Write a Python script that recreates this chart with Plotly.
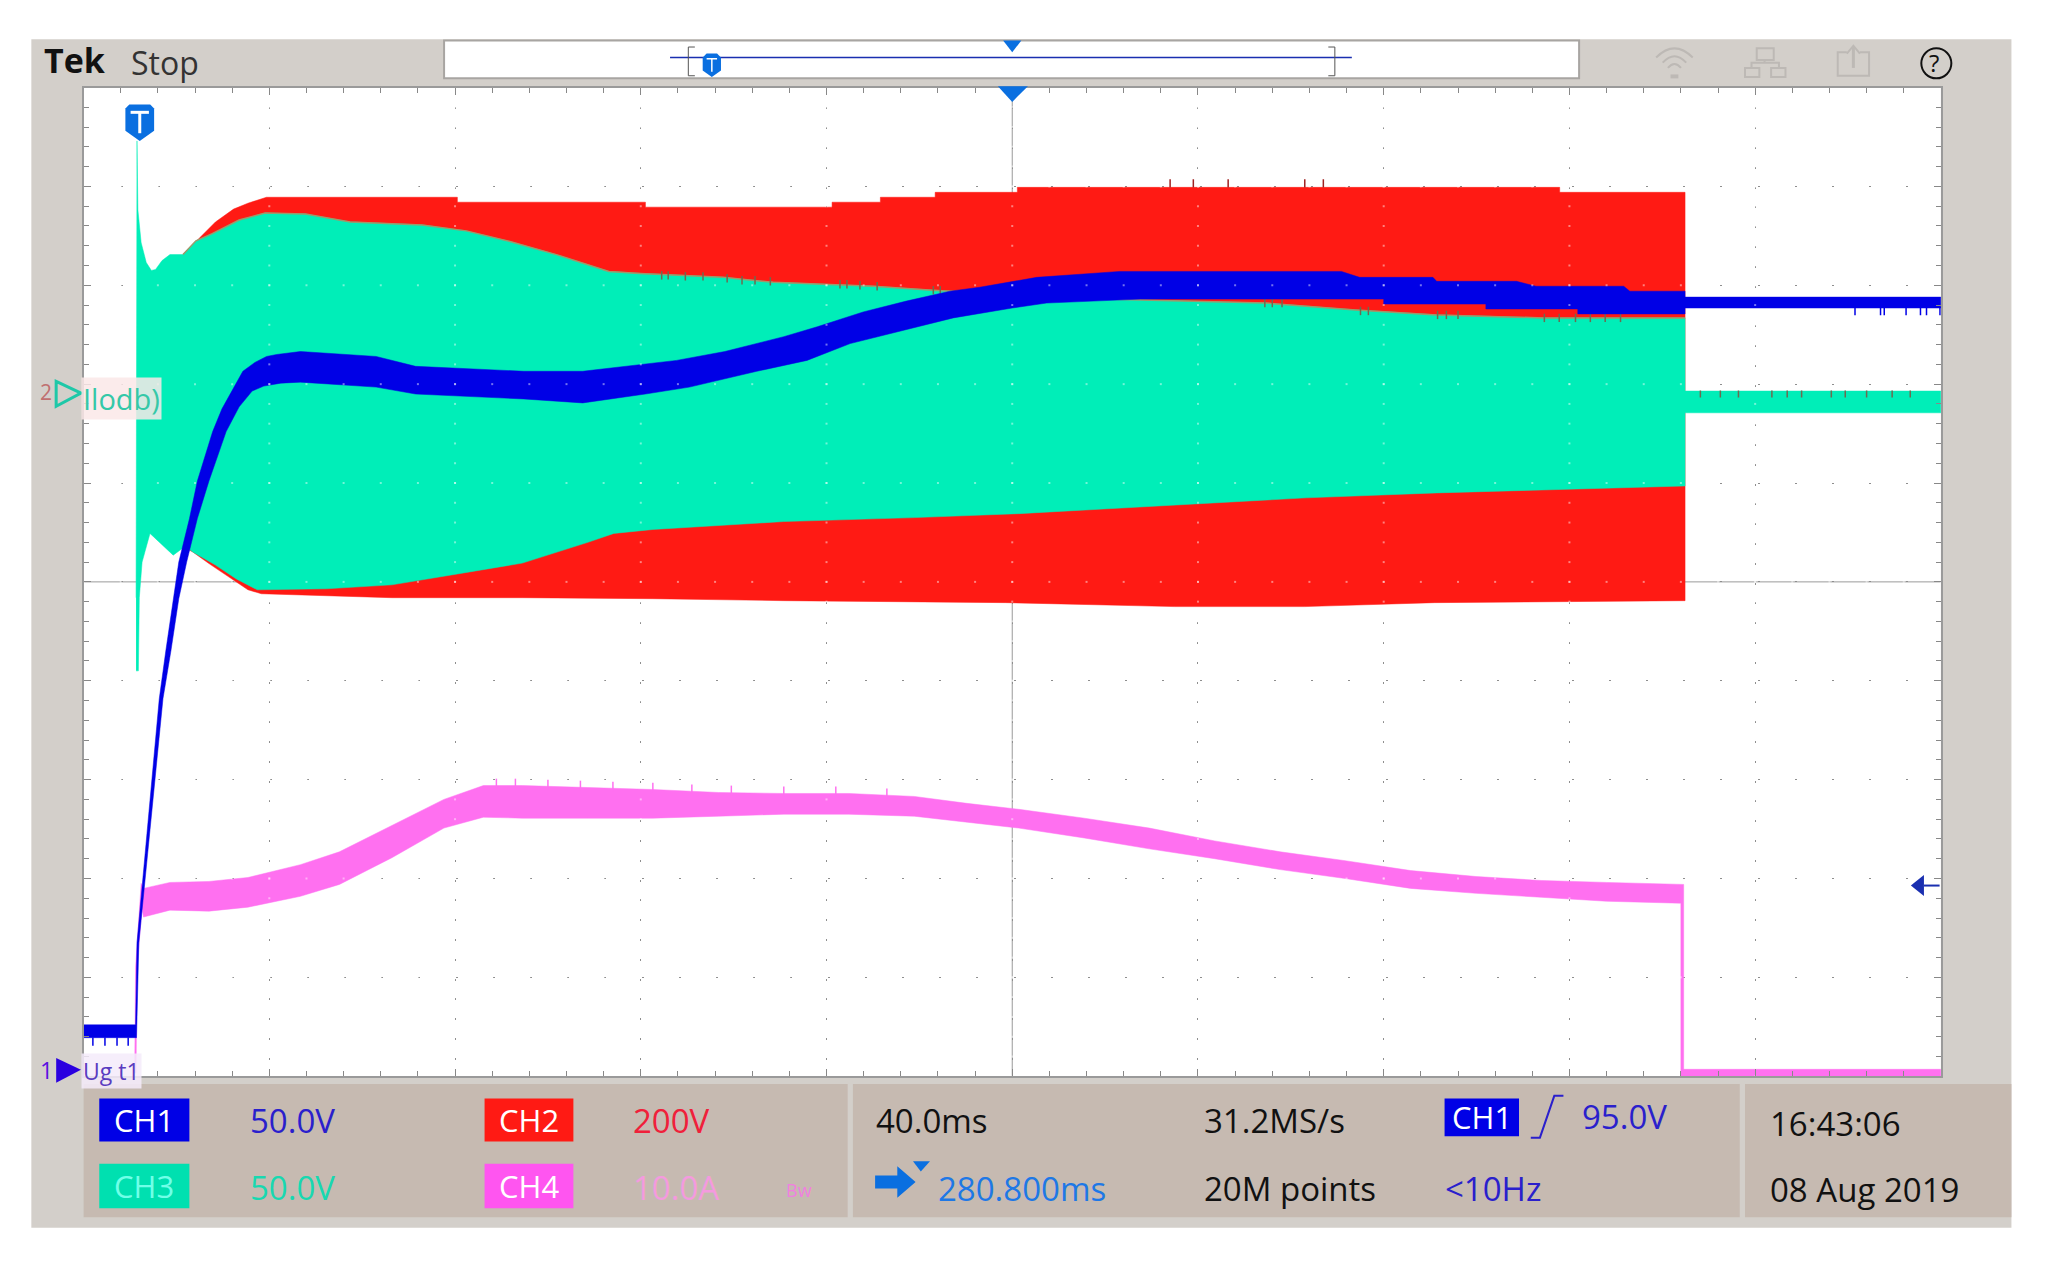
import plotly.graph_objects as go

# time axis in ms from the left screen edge (40 ms/div), y in divisions from centre
teal_top_t = [11.3, 11.5, 11.7, 12.4, 13.5, 14.6, 15.5, 16.9, 18.6, 21.4, 24.2, 27.6, 33.5, 39.1, 47.8, 57.4, 72.9, 82.4, 92.0, 101.8, 113.1, 119.8, 137.7, 148.5, 170.1, 182.9, 218.8, 254.5, 274, 291.4, 314.5, 344.9, 344.9, 400]
teal_top_v = [-0.16, 4.46, 3.76, 3.43, 3.23, 3.15, 3.16, 3.25, 3.31, 3.31, 3.45, 3.52, 3.66, 3.73, 3.72, 3.64, 3.61, 3.55, 3.44, 3.31, 3.14, 3.12, 3.08, 3.03, 2.99, 2.95, 2.86, 2.82, 2.75, 2.70, 2.67, 2.67, 1.93, 1.93]
teal_bot_t = [11.3, 11.8, 12.0, 12.6, 14.3, 19.3, 21.9, 23.6, 28.4, 32.9, 37.4, 52.3, 66.4, 80.5, 94.5, 108.6, 114.2, 122.6, 150.8, 178.9, 201.4, 235.2, 263.3, 291.4, 319.6, 344.9, 344.9, 400]
teal_bot_v = [-0.90, -0.90, -0.16, 0.20, 0.49, 0.27, 0.36, 0.30, 0.17, 0.03, -0.08, -0.07, -0.03, 0.08, 0.19, 0.40, 0.49, 0.53, 0.61, 0.65, 0.69, 0.78, 0.85, 0.90, 0.94, 0.97, 1.71, 1.71]

red_top_t = [21.4, 24.8, 28.4, 32.3, 35.4, 39.4, 80.5, 80.5, 121, 121, 161.2, 161.2, 171.6, 171.6, 183.4, 183.4, 201.1, 201.1, 317.9, 317.9, 344.9]
red_top_v = [3.31, 3.47, 3.64, 3.77, 3.83, 3.89, 3.89, 3.84, 3.84, 3.79, 3.79, 3.84, 3.84, 3.89, 3.89, 3.94, 3.94, 3.99, 3.99, 3.94, 3.94]
red_bot_t = [21.4, 23.6, 27, 31.2, 35.4, 38.3, 66.4, 94.5, 122.6, 150.8, 198.6, 235, 263, 291, 320, 344.9]
red_bot_v = [0.36, 0.30, 0.185, 0.05, -0.08, -0.12, -0.16, -0.16, -0.17, -0.19, -0.21, -0.25, -0.25, -0.21, -0.20, -0.19]

blue_top_t = [0, 11.2, 11.5, 16.3, 17.7, 19.4, 20.5, 22.8, 24.5, 27.8, 29.8, 34.3, 36.9, 39.4, 41.6, 46.7, 63, 71.5, 94.8, 107.5, 121, 127.7, 138.1, 150.8, 158, 167.9, 177.2, 186.6, 193, 205.3, 223.2, 270.9, 274.8, 290.6, 291.4, 308.6, 312.8, 331.7, 333, 344.9, 344.9, 400]
blue_top_v = [-4.48, -4.48, -3.65, -1.18, -0.70, -0.17, 0.20, 0.64, 1.02, 1.52, 1.75, 2.13, 2.22, 2.28, 2.30, 2.33, 2.28, 2.18, 2.13, 2.13, 2.20, 2.24, 2.33, 2.48, 2.58, 2.73, 2.84, 2.94, 2.98, 3.08, 3.14, 3.14, 3.08, 3.08, 3.04, 3.04, 2.99, 2.99, 2.94, 2.94, 2.88, 2.88]
blue_bot_t = [0, 11.4, 11.9, 17.1, 18.8, 20.5, 22.2, 24.5, 27, 30.7, 33.5, 36.3, 38.8, 42.5, 46.7, 63, 71.5, 94.8, 107.5, 121, 130.5, 145, 155.8, 165.1, 177.2, 187.3, 200, 207.4, 227.6, 280, 280, 302, 302, 321.8, 321.8, 344.9, 344.9, 400]
blue_bot_v = [-4.61, -4.61, -3.65, -1.18, -0.70, -0.17, 0.20, 0.64, 1.02, 1.52, 1.77, 1.93, 1.98, 2.01, 2.02, 1.97, 1.90, 1.85, 1.81, 1.90, 1.97, 2.13, 2.24, 2.41, 2.55, 2.67, 2.77, 2.82, 2.86, 2.86, 2.81, 2.81, 2.76, 2.76, 2.71, 2.71, 2.77, 2.77]

pink_t = [12.9, 18.6, 27, 35.4, 46.7, 55.1, 66.4, 77.6, 86.1, 94.5, 108.6, 122.6, 136.7, 150.8, 164.8, 178.9, 190.2, 201.4, 215.5, 229.5, 243.6, 257.7, 271.7, 285.8, 299.9, 313.9, 328, 344.0]
pink_top_v = [-3.10, -3.04, -3.03, -2.99, -2.86, -2.73, -2.46, -2.20, -2.06, -2.06, -2.08, -2.10, -2.13, -2.14, -2.14, -2.17, -2.24, -2.30, -2.39, -2.49, -2.62, -2.73, -2.82, -2.92, -2.98, -3.02, -3.04, -3.06]
pink_bot_v = [-3.39, -3.32, -3.33, -3.29, -3.18, -3.06, -2.79, -2.49, -2.38, -2.39, -2.39, -2.39, -2.37, -2.35, -2.35, -2.37, -2.43, -2.49, -2.59, -2.70, -2.80, -2.91, -3.00, -3.10, -3.15, -3.19, -3.23, -3.25]

# single sample glitches standing off the envelopes
edge_spike_t = [124.5, 125.9, 129.6, 133.4, 138.6, 141.8, 144.6, 147.9, 162.9, 164.4, 167.2, 170.9, 183, 184.5, 254.4, 256, 258.1, 275, 276.7, 291.6, 293.5, 296, 314.6, 317.8, 321.3, 324.5, 327.7, 331]
edge_spike_v = [3.10, 3.10, 3.09, 3.09, 3.07, 3.05, 3.05, 3.04, 3.01, 3.01, 3.00, 2.99, 2.95, 2.95, 2.82, 2.82, 2.82, 2.74, 2.74, 2.70, 2.70, 2.70, 2.67, 2.67, 2.67, 2.67, 2.67, 2.67]
red_spike_t = [234, 239, 246.5, 263, 267]
red_spike_v = [4.03, 4.03, 4.03, 4.03, 4.03]
teal_spike_t = [348.2, 352.5, 356.4, 363.6, 366.9, 370, 376.4, 379.4, 384, 389.5, 393.4]
teal_spike_v = [1.90] * 11
blue_spike_t = [2.0, 4.6, 7.2, 9.6, 381.5, 387, 387.8, 392.5, 395.6, 396.9, 399.8]
blue_spike_v = [-4.65, -4.65, -4.65, -4.65, 2.74, 2.74, 2.74, 2.74, 2.74, 2.74, 2.74]
pink_spike_t = [88.9, 93, 100, 107, 114, 122.6, 131, 139.5, 150.8, 162, 173]
pink_spike_v = [-2.04, -2.04, -2.05, -2.06, -2.07, -2.08, -2.10, -2.11, -2.12, -2.12, -2.14]

TEAL = "#00EEB8"
RED = "#FF1A14"
BLUE = "#0000E6"
PINK = "#FF70F0"
GLITCH = "#6E6A50"
FONT = "Open Sans"
K = 2048 / 1568  # layout below is measured on the 1568 wide view


def px(x):
    return x * K / 2048


def py(y):
    return 1 - y * K / 1267


def rect(x0, y0, x1, y1, fill, line=None, width=1):
    return dict(type="rect", xref="paper", yref="paper", x0=px(x0), y0=py(y0), x1=px(x1), y1=py(y1),
                fillcolor=fill, line=dict(color=line or fill, width=width if line else 0), layer="below")


def poly(points, fill=None, line=None, width=1, close=True, layer="above"):
    path = "M " + " L ".join(f"{px(x)},{py(y)}" for x, y in points) + (" Z" if close else "")
    return dict(type="path", xref="paper", yref="paper", path=path, fillcolor=fill or "rgba(0,0,0,0)",
                line=dict(color=line or "rgba(0,0,0,0)", width=width), layer=layer)


def label(x, y, text, color="#111", size=33, weight=400, **kw):
    return dict(xref="paper", yref="paper", x=px(x), y=py(y), text=text, showarrow=False, xanchor="left",
                yanchor="middle", font=dict(family=FONT, size=size, color=color, weight=weight), **kw)


def chip(x0, y0, x1, y1, text, fill, color="white"):
    shapes.append(rect(x0, y0, x1, y1, fill))
    annotations.append(dict(xref="paper", yref="paper", x=px((x0 + x1) / 2), y=py((y0 + y1) / 2), text=text,
                            showarrow=False, xanchor="center", yanchor="middle",
                            font=dict(family=FONT, size=31, color=color)))


def shield(cx, top, w, h, fill):
    return poly([(cx - w, top + 3), (cx - w + 3, top), (cx + w - 3, top), (cx + w, top + 3), (cx + w, top + h * 0.72),
                 (cx, top + h), (cx - w, top + h * 0.72)], fill=fill)


def band(top_t, top_v, bot_t, bot_v, color):
    return go.Scatter(x=list(top_t) + list(bot_t)[::-1], y=list(top_v) + list(bot_v)[::-1], mode="lines",
                      fill="toself", fillcolor=color, line=dict(color=color, width=0.5), hoverinfo="skip",
                      showlegend=False)


def glitches(t, v, color, size=6):
    return go.Scatter(x=t, y=v, mode="markers", hoverinfo="skip", showlegend=False,
                      marker=dict(symbol="line-ns", size=size, line=dict(color=color, width=1.5)))


shapes = [
    rect(24, 30, 1540, 940, "#D3CFCA"),
    rect(64, 830, 1540, 932, "#C6BAB1"),
    rect(649, 828, 653, 934, "#D3CFCA"),
    rect(1332, 828, 1336, 934, "#D3CFCA"),
    rect(64, 67, 1486, 824, "white"),
    rect(340, 31, 1209, 60, "white", "#A8A5A2", 2),
    # record view
    poly([(513, 44), (1035, 44)], line="#1A2FB0", width=1.5, close=False),
    poly([(532, 36), (527, 36), (527, 58), (532, 58)], line="#555", close=False),
    poly([(1017, 36), (1022, 36), (1022, 58), (1017, 58)], line="#555", close=False),
    shield(545, 41, 7, 18, "#0A6FE0"),
    poly([(541, 45), (549, 45)], line="white", width=1.5, close=False),
    poly([(545, 45), (545, 55)], line="white", width=1.5, close=False),
    poly([(768, 31), (782, 31), (775, 40)], fill="#0A6FE0"),
    # trigger position, level and T markers
    poly([(764, 66), (787, 66), (775, 78)], fill="#0A6FE0"),
    shield(107, 80, 11, 28, "#0A6FE0"),
    poly([(100, 86), (114, 86)], line="white", width=3, close=False),
    poly([(107, 86), (107, 102)], line="white", width=3, close=False),
    poly([(1485, 678), (1473, 678)], line="#1A2FB0", width=2, close=False),
    poly([(1463, 678), (1473, 670), (1473, 686)], fill="#1A2FB0"),
    # channel markers
    poly([(43, 292), (62, 301), (43, 311)], line="#1EC8A8", width=3),
    poly([(43, 810), (62, 819), (43, 829)], fill="#2A00E0"),
    # delay arrow
    poly([(670, 900), (687, 900), (687, 893), (701, 905), (687, 917), (687, 910), (670, 910)], fill="#0A6FE0"),
    poly([(699, 889), (712, 889), (705, 897)], fill="#0A6FE0"),
    # trigger slope
    poly([(1172, 871), (1179, 871), (1190, 839), (1197, 839)], line="#2A1FCC", width=2, close=False),
    # status icons
    dict(type="path", xref="paper", yref="paper", layer="above", line=dict(color="#BDB9B5", width=2),
         path=f"M {px(1268)},{py(44)} Q {px(1282)},{py(30)} {px(1296)},{py(44)} "
              f"M {px(1273)},{py(48)} Q {px(1282)},{py(38)} {px(1291)},{py(48)} "
              f"M {px(1277)},{py(52)} Q {px(1282)},{py(46)} {px(1287)},{py(52)}"),
    poly([(1279, 57), (1285, 57), (1285, 60), (1279, 60)], fill="#BDB9B5"),
    poly([(1345, 37), (1358, 37), (1358, 46), (1345, 46)], line="#BDB9B5", width=2),
    poly([(1336, 52), (1347, 52), (1347, 59), (1336, 59)], line="#BDB9B5", width=2),
    poly([(1356, 52), (1367, 52), (1367, 59), (1356, 59)], line="#BDB9B5", width=2),
    poly([(1341, 52), (1341, 48), (1362, 48), (1362, 52)], line="#BDB9B5", width=2, close=False),
    poly([(1351, 46), (1351, 48)], line="#BDB9B5", width=2, close=False),
    poly([(1414, 40), (1407, 40), (1407, 58), (1431, 58), (1431, 40), (1424, 40)], line="#BDB9B5", width=2, close=False),
    poly([(1419, 52), (1419, 36)], line="#BDB9B5", width=3, close=False),
    poly([(1414, 41), (1419, 35), (1424, 41)], line="#BDB9B5", width=2, close=False),
    dict(type="circle", xref="paper", yref="paper", x0=px(1471), x1=px(1494), y0=py(37), y1=py(60),
         line=dict(color="#111", width=2), layer="above"),
    # centre graticule lines
    dict(type="line", xref="x", yref="paper", x0=200, x1=200, y0=py(67), y1=py(824), line=dict(color="#9A9A9A", width=1), layer="below"),
    dict(type="line", xref="paper", yref="y", x0=px(64), x1=px(1486), y0=0, y1=0, line=dict(color="#9A9A9A", width=1), layer="below"),
]

annotations = [
    label(32, 46, "Tek", "#111", 34, weight=700),
    label(99, 48, "Stop", "#333", 32),
    label(29, 300, "2", "#C07070", 21),
    label(29, 819, "1", "#5A10E0", 23),
    label(62, 305, "Ilodb)", "#35C8A8", 29, bgcolor="rgba(250,232,232,0.85)"),
    label(62, 820, "Ug t1", "#5A3CC0", 23, bgcolor="rgba(245,235,250,0.85)"),
    label(1475, 48, "?", "#111", 24),
    label(190, 858, "50.0V", "#2A1FCC"),
    label(483, 858, "200V", "#F0203A"),
    label(190, 909, "50.0V", "#18D8B0"),
    label(483, 909, "10.0A", "#F49ADF"),
    label(600, 911, "Bw", "#F080E0", 18),
    label(669, 858, "40.0ms"),
    label(717, 910, "280.800ms", "#1E78E6"),
    label(920, 858, "31.2MS/s"),
    label(920, 910, "20M points"),
    label(1210, 855, "95.0V", "#2A1FCC"),
    label(1105, 910, "<10Hz", "#2A1FCC"),
    label(1354, 860, "16:43:06"),
    label(1354, 911, "08 Aug 2019"),
]

chip(76, 841, 145, 874, "CH1", BLUE)
chip(371, 841, 439, 874, "CH2", RED)
chip(76, 891, 145, 925, "CH3", "#00E0B0", "#70FFE8")
chip(371, 891, 439, 925, "CH4", "#FF55F0")
chip(1106, 841, 1163, 870, "CH1", BLUE)

fig = go.Figure()
fig.add_trace(band(red_top_t, red_top_v, red_bot_t, red_bot_v, RED))
fig.add_trace(band(teal_top_t, teal_top_v, teal_bot_t, teal_bot_v, TEAL))
# olive fringe where the teal envelope meets the red one
fig.add_trace(go.Scatter(x=teal_top_t[9:32], y=teal_top_v[9:32], mode="lines", line=dict(color="#9C9A6C", width=1.5),
                         hoverinfo="skip", showlegend=False))
fig.add_trace(glitches(edge_spike_t, edge_spike_v, GLITCH))
fig.add_trace(glitches(red_spike_t, red_spike_v, "#A02020"))
fig.add_trace(glitches(teal_spike_t, teal_spike_v, GLITCH, 5))
fig.add_trace(band([11.0, 11.2, 12.4] + pink_t[:-1] + [344.6, 344.6, 400], [-4.97, -3.9, -3.05] + pink_top_v[:-1] + [-3.06, -4.93, -4.93],
                   [11.3, 11.5, 12.6] + pink_t + [344.0, 400], [-4.97, -3.9, -3.3] + pink_bot_v + [-5, -5], PINK))
fig.add_trace(glitches(pink_spike_t, pink_spike_v, PINK, 7))
fig.add_trace(band(blue_top_t, blue_top_v, blue_bot_t, blue_bot_v, BLUE))
fig.add_trace(glitches(blue_spike_t, blue_spike_v, BLUE))

# graticule dots show through the waveforms as pale specks
speck_x = [40 * i for i in range(1, 10) for j in range(51)] + [8 * j for i in range(1, 10) for j in range(51)]
speck_y = [round(-5 + 0.2 * j, 1) for i in range(1, 10) for j in range(51)] + [i - 5 for i in range(1, 10) for j in range(51)]
fig.add_trace(go.Scatter(x=speck_x, y=speck_y, mode="markers", hoverinfo="skip", showlegend=False,
                         marker=dict(symbol="square", size=2, color="rgba(255,255,255,0.45)")))

fig.update_layout(
    width=2048, height=1267, margin=dict(l=0, r=0, t=0, b=0),
    paper_bgcolor="white", plot_bgcolor="white", showlegend=False,
    shapes=shapes, annotations=annotations,
    xaxis=dict(domain=[px(64), px(1486)], range=[0, 400], dtick=40, tick0=0, showticklabels=False,
               showgrid=True, gridcolor="#8E8E8E", griddash="2px,17.8px", gridwidth=1, zeroline=False,
               ticks="inside", ticklen=7, tickcolor="#888", mirror="ticks", showline=True, linecolor="#9A9A9A", linewidth=2,
               minor=dict(dtick=8, ticks="inside", ticklen=5, tickcolor="#888", showgrid=False)),
    yaxis=dict(domain=[py(824), py(67)], range=[-5, 5], dtick=1, tick0=0, showticklabels=False,
               showgrid=True, gridcolor="#8E8E8E", griddash="2px,35.2px", gridwidth=1, zeroline=False,
               ticks="inside", ticklen=7, tickcolor="#888", mirror="ticks", showline=True, linecolor="#9A9A9A", linewidth=2,
               minor=dict(dtick=0.2, ticks="inside", ticklen=5, tickcolor="#888", showgrid=False)),
)

fig.write_html("out.html", config={"displayModeBar": False}, post_script="document.body.style.margin='0';")
